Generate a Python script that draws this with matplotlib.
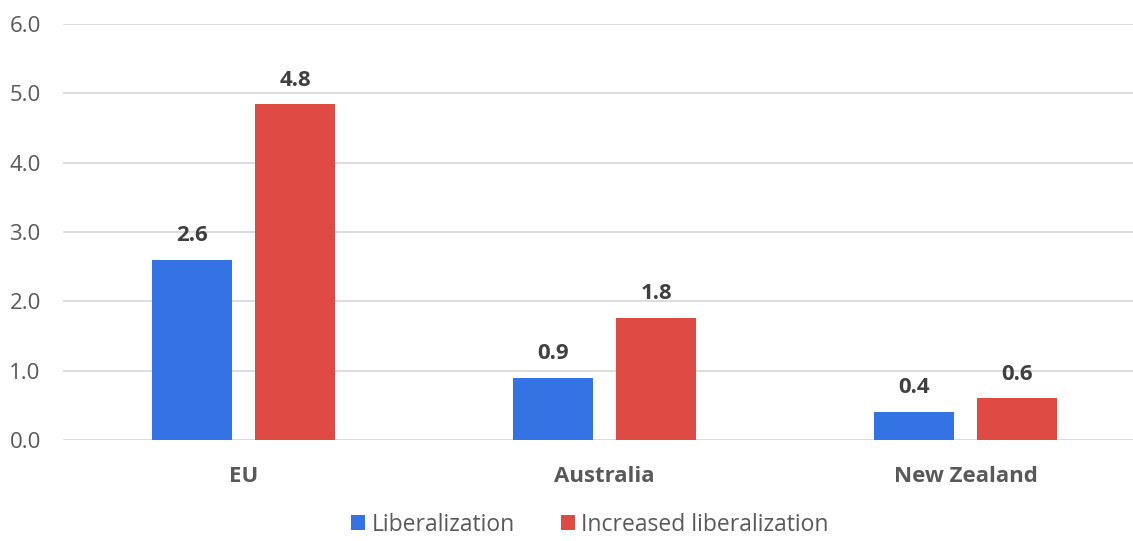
import matplotlib.pyplot as plt
import numpy as np

plt.rcParams['font.family'] = ['Open Sans', 'DejaVu Sans']

regions = ["EU", "Australia", "New Zealand"]
liberalization = [2.6, 0.9, 0.4]
increased = [4.84, 1.76, 0.6]
yticks = [0.0, 1.0, 2.0, 3.0, 4.0, 5.0, 6.0]

blue = "#3373E3"
red = "#E04A44"
grey = "#595959"

fig = plt.figure(figsize=(11.33, 5.41), dpi=100)
ax = fig.add_axes([63 / 1133, 101 / 541, 3 * 361 / 1133, 416 / 541])

x = np.arange(len(regions))
w = 0.224
off = 0.1427

b1 = ax.bar(x - off, liberalization, w, color=blue, label="Liberalization", zorder=3)
b2 = ax.bar(x + off, increased, w, color=red, label="Increased liberalization", zorder=3)

for bars in (b1, b2):
    for rect in bars:
        h = rect.get_height()
        ax.annotate(f"{h:.1f}", (rect.get_x() + rect.get_width() / 2, h),
                    xytext=(0, 10), textcoords="offset points",
                    ha="center", va="bottom", fontsize=16,
                    fontweight="bold", color="#404040")

ax.set_xlim(-0.5, 2.5)
ax.set_ylim(0, 6)
ax.set_yticks(yticks)
ax.set_yticklabels([f"{t:.1f}" for t in yticks])
ax.set_xticks(x)
ax.set_xticklabels(regions, fontweight="bold")
ax.tick_params(axis="y", length=0, pad=16, labelsize=16, labelcolor=grey)
ax.tick_params(axis="x", length=0, pad=19, labelsize=16, labelcolor=grey)

ax.grid(axis="y", color="#D9D9D9", lw=1.3, zorder=0)
for sp in ax.spines.values():
    sp.set_visible(False)

fig.legend(loc="lower center", bbox_to_anchor=(590 / 1133, -0.03), ncol=2,
           frameon=False, fontsize=16.5, labelcolor=grey,
           handlelength=0.6, handleheight=0.6, handletextpad=0.3,
           columnspacing=2.0)

fig.savefig("out.png", dpi=100)
